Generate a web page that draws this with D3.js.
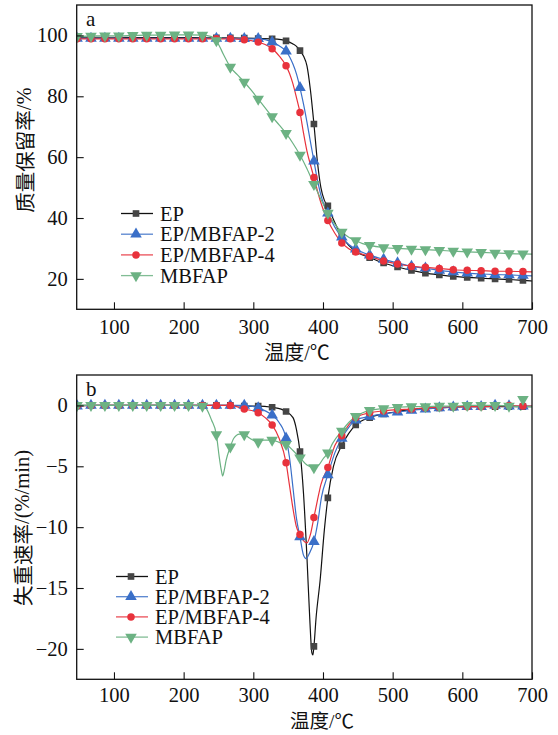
<!DOCTYPE html>
<html><head><meta charset="utf-8">
<script src="https://cdn.jsdelivr.net/npm/d3@7"></script>
<style>
html,body{margin:0;padding:0;background:#fff;}
text{font-family:"Liberation Serif","Times New Roman",serif;fill:#111;}
.cjk{font-family:"Noto Sans CJK SC","Noto Sans",sans-serif;}
.lat{font-family:"Liberation Serif","Times New Roman",serif;}
</style></head>
<body><svg id="c" width="558" height="735"></svg>
<script>
const seriesNames = ["EP", "EP/MBFAP-2", "EP/MBFAP-4", "MBFAP"];
const seriesColors = ["#111111", "#3a6fc8", "#e8323c", "#6cb283"];
const markerFills = ["#454545", "#3a6fc8", "#e8323c", "#6cb283"];
const markerTemps = [47,67,87,107,127,147,167,187,207,227,247,267,287,307,327,347,367,387,407,427,447,467,487,507,527,547,567,587,607,627,647,667,687];
const xTicks = [100,200,300,400,500,600,700];
const tgTicks = [20,40,60,80,100];
const dtgTicks = [-20,-15,-10,-5,0];

// TG curves [temperature, mass retention %]
const tgEP = [[47,99.4],[67,99.4],[87,99.4],[107,99.4],[127,99.3],[147,99.3],[167,99.3],[187,99.3],[207,99.3],[227,99.2],[247,99.2],[267,99.2],[287,99.1],[307,99.0],[327,98.9],[340,98.6],[347,98.2],[357,97.2],[362,96.4],[367,95.0],[372,93.2],[377,90.0],[382,82.0],[387,70.9],[392,58.5],[397,50.0],[402,45.8],[407,44.0],[415,39.5],[427,34.0],[437,31.0],[447,29.0],[467,27.0],[487,25.2],[507,23.9],[527,22.8],[547,21.9],[567,21.3],[587,20.8],[607,20.5],[627,20.2],[647,20.0],[667,19.8],[687,19.5],[700,19.3]];
const tgEP2 = [[47,99.0],[67,99.0],[87,99.0],[107,99.0],[127,99.0],[147,99.0],[167,99.0],[187,99.0],[207,99.0],[227,99.0],[247,99.0],[267,99.0],[287,98.9],[307,98.9],[317,98.6],[327,97.8],[337,96.6],[347,94.8],[352,93.0],[357,90.5],[362,87.3],[367,82.8],[372,77.5],[377,71.5],[382,65.0],[387,58.7],[392,52.5],[397,47.5],[402,44.0],[407,41.6],[417,37.0],[427,33.7],[437,31.3],[447,29.8],[467,27.8],[487,26.4],[507,25.2],[527,24.1],[547,23.5],[567,22.8],[587,22.3],[607,21.9],[627,21.6],[647,21.4],[667,21.3],[687,21.1],[700,21.0]];
const tgEP4 = [[47,98.9],[67,98.9],[87,98.9],[107,98.9],[127,98.9],[147,98.9],[167,98.9],[187,98.9],[207,98.9],[227,98.9],[247,98.9],[267,98.9],[287,98.6],[307,97.8],[317,97.0],[327,95.6],[337,93.3],[347,90.0],[352,87.5],[357,84.0],[362,79.5],[367,74.7],[372,68.0],[377,62.0],[382,57.5],[387,53.3],[392,49.0],[397,45.0],[402,41.8],[407,39.2],[417,35.0],[427,31.8],[437,29.9],[447,28.8],[467,27.4],[487,25.9],[507,24.9],[527,24.1],[547,23.8],[567,23.4],[587,23.0],[607,22.8],[627,22.7],[647,22.5],[667,22.5],[687,22.4],[700,22.3]];
const tgMB = [[47,99.7],[67,99.8],[87,99.9],[107,99.9],[127,100.0],[147,100.1],[167,100.1],[187,100.2],[207,100.2],[227,100.1],[240,99.6],[247,98.3],[252,96.2],[257,93.8],[262,91.6],[267,89.6],[277,87.1],[287,84.7],[297,82.0],[307,79.1],[317,76.2],[327,73.3],[337,70.6],[347,67.8],[357,64.5],[367,60.7],[377,56.2],[387,51.1],[397,46.2],[407,41.6],[417,38.0],[427,35.4],[437,33.7],[447,32.6],[457,31.6],[467,31.0],[487,30.3],[507,30.0],[527,29.8],[547,29.6],[567,29.4],[587,29.1],[607,28.9],[627,28.7],[647,28.5],[667,28.3],[687,28.2],[700,28.1]];

// DTG curves [temperature, weight loss rate %/min]
const dtgEP = [[47,0],[67,0],[87,0],[107,0],[127,0],[147,0],[167,0],[187,0],[207,0],[227,0],[247,0],[267,0],[287,-0.05],[307,-0.05],[327,-0.15],[340,-0.3],[347,-0.5],[357,-1.0],[362,-2.0],[367,-3.8],[372,-7.2],[377,-12.5],[381,-17.5],[384,-20.3],[385.5,-20.5],[387,-19.8],[390,-17.5],[396,-14.3],[402,-10.2],[407,-7.6],[415,-5.0],[427,-3.3],[437,-2.3],[447,-1.6],[467,-1.0],[487,-0.7],[507,-0.5],[527,-0.35],[547,-0.25],[567,-0.2],[587,-0.15],[607,-0.1],[627,-0.1],[647,-0.1],[667,-0.1],[687,-0.1],[700,-0.1]];
const dtgEP2 = [[47,-0.05],[67,0],[87,0],[107,0],[127,0],[147,0],[167,0],[187,0],[207,0],[227,0],[247,0],[267,0],[287,0],[307,-0.2],[327,-0.8],[337,-1.4],[347,-2.7],[352,-4.3],[357,-6.8],[362,-9.3],[367,-10.8],[372,-12.3],[376,-12.6],[380,-12.2],[387,-11.2],[392,-9.8],[398,-7.5],[407,-5.7],[417,-3.9],[427,-2.7],[437,-1.8],[447,-1.2],[467,-0.9],[487,-0.7],[507,-0.55],[527,-0.4],[547,-0.3],[567,-0.2],[587,-0.15],[607,-0.1],[627,-0.1],[647,0],[667,-0.05],[687,-0.05],[700,-0.05]];
const dtgEP4 = [[47,-0.05],[67,0],[87,0],[107,0],[127,0],[147,0],[167,0],[187,0],[207,0],[227,0],[247,0],[267,0],[287,-0.3],[307,-0.6],[317,-1.0],[327,-1.6],[337,-2.7],[347,-4.7],[352,-6.6],[357,-8.5],[362,-10.0],[367,-10.6],[372,-11.1],[377,-11.3],[382,-10.6],[387,-9.2],[392,-7.8],[397,-6.5],[407,-5.1],[417,-3.3],[427,-2.5],[437,-1.6],[447,-1.0],[467,-0.6],[487,-0.45],[507,-0.35],[527,-0.3],[547,-0.2],[567,-0.15],[587,-0.1],[607,-0.1],[627,-0.1],[647,-0.05],[667,0],[687,-0.05],[700,-0.05]];
const dtgMB = [[47,0],[67,0],[87,0],[107,0],[127,0],[147,0],[167,0],[187,0],[207,0],[227,-0.05],[233,-0.3],[240,-1.2],[247,-2.4],[251,-4.2],[254,-5.3],[256,-5.8],[258,-5.4],[261,-4.5],[267,-3.4],[272,-2.7],[280,-2.35],[287,-2.4],[295,-2.7],[307,-3.0],[315,-2.85],[327,-2.85],[340,-3.1],[347,-3.2],[357,-3.7],[367,-4.3],[377,-4.9],[387,-5.1],[394,-4.9],[400,-4.4],[407,-3.9],[414,-3.1],[427,-2.1],[437,-1.4],[447,-0.9],[457,-0.6],[467,-0.4],[487,-0.25],[507,-0.15],[527,-0.1],[547,-0.1],[567,-0.05],[587,-0.05],[607,0],[627,0],[647,0],[667,-0.05],[680,-0.1],[684,-0.4],[687,0.5],[692,-0.1],[700,-0.1]];

const tgSeries = [tgEP, tgEP2, tgEP4, tgMB];
const dtgSeries = [dtgEP, dtgEP2, dtgEP4, dtgMB];

const svg = d3.select("#c");
const symbolTypes = [d3.symbolSquare, d3.symbolTriangle, d3.symbolCircle, d3.symbolTriangle];
const symbolSizes = [44, 58, 44, 58];
const symbolRot = [0, 0, 0, 180];

function mixedText(sel, parts) {
  parts.forEach(p => sel.append("tspan").attr("class", p[1]).text(p[0]));
}

function panel(cfg) {
  const x = d3.scaleLinear().domain([46.5, 700]).range([76.7, 532]);
  const y = d3.scaleLinear().domain(cfg.ydom).range([cfg.bottom, cfg.top]);
  const g = svg.append("g");
  const clipId = "clip" + cfg.letter;
  svg.append("clipPath").attr("id", clipId).append("rect")
    .attr("x", 76.7).attr("y", cfg.top).attr("width", 532 - 76.7).attr("height", cfg.bottom - cfg.top);

  const line = d3.line().x(d => x(d[0])).y(d => y(d[1])).curve(d3.curveMonotoneX);
  const plot = g.append("g").attr("clip-path", `url(#${clipId})`);
  cfg.series.forEach((s, i) => {
    plot.append("path").datum(s).attr("d", line)
      .attr("fill", "none").attr("stroke", seriesColors[i]).attr("stroke-width", 1.2);
  });
  cfg.series.forEach((s, i) => {
    const pts = s.filter(d => markerTemps.includes(d[0]));
    plot.selectAll(null).data(pts).enter().append("path")
      .attr("d", d3.symbol().type(symbolTypes[i]).size(symbolSizes[i]))
      .attr("transform", d => `translate(${x(d[0])},${y(d[1])}) rotate(${symbolRot[i]})`)
      .attr("fill", markerFills[i]);
  });

  const xAxis = d3.axisBottom(x).tickValues(xTicks).tickSize(-7).tickPadding(cfg.xpad).tickFormat(d3.format("d"));
  const gx = g.append("g").attr("transform", `translate(0,${cfg.bottom})`).call(xAxis);
  const yAxis = d3.axisLeft(y).tickValues(cfg.yticks).tickSize(-7).tickPadding(9);
  const gy = g.append("g").attr("transform", `translate(76.7,0)`).call(yAxis);
  [gx, gy].forEach(a => {
    a.select(".domain").remove();
    a.selectAll("line").attr("stroke", "#111").attr("stroke-width", 1.1);
    a.selectAll("text").attr("font-size", 20.5).attr("font-family", "Liberation Serif").attr("fill", "#111");
  });
  g.append("rect").attr("x", 76.7).attr("y", cfg.top).attr("width", 532 - 76.7).attr("height", cfg.bottom - cfg.top)
    .attr("fill", "none").attr("stroke", "#111").attr("stroke-width", 1.3);

  g.append("text").attr("x", 86).attr("y", cfg.top + 21).attr("font-size", 21).text(cfg.letter);

  const xt = g.append("text").attr("x", cfg.xtitleX).attr("y", cfg.bottom + cfg.xtitleDy)
    .attr("text-anchor", "middle").attr("font-size", cfg.xtitleFs);
  mixedText(xt, [["温度", "cjk"], ["/", "lat"], ["℃", "cjk"]]);

  const yt = g.append("text")
    .attr("transform", `translate(${cfg.ytitleX},${cfg.ytitleY}) rotate(-90)`)
    .attr("text-anchor", "middle").attr("dominant-baseline", "central").attr("font-size", 20.5);
  mixedText(yt, cfg.ytitle);

  seriesNames.forEach((n, i) => {
    const ly = cfg.legY + i * cfg.legStep;
    g.append("line").attr("x1", cfg.legX).attr("x2", cfg.legX + 32).attr("y1", ly).attr("y2", ly)
      .attr("stroke", seriesColors[i]).attr("stroke-width", 1.3).attr("opacity", i === 0 ? 1 : 0.85);
    g.append("path").attr("d", d3.symbol().type(symbolTypes[i]).size(symbolSizes[i]))
      .attr("transform", `translate(${cfg.legX + 15},${ly}) rotate(${symbolRot[i]})`)
      .attr("fill", markerFills[i]);
    g.append("text").attr("x", cfg.legX + 39).attr("y", ly).attr("dy", "0.35em")
      .attr("font-size", 20.5).text(n);
  });
}

panel({letter: "a", ydom: [10, 110], top: 5, bottom: 309.3, yticks: tgTicks, series: tgSeries, xpad: 10,
  ytitle: [["质量保留率", "cjk"], ["/%", "lat"]], ytitleX: 24, ytitleY: 150, xtitleX: 297, xtitleDy: 51, xtitleFs: 20,
  legX: 121, legY: 213.5, legStep: 20.7});
panel({letter: "b", ydom: [-22.5, 2.5], top: 375, bottom: 679.3, yticks: dtgTicks, series: dtgSeries, xpad: 8,
  ytitle: [["失重速率", "cjk"], ["/(%/min)", "lat"]], ytitleX: 22, ytitleY: 528, xtitleX: 322, xtitleDy: 48.5, xtitleFs: 19.5,
  legX: 116, legY: 576.5, legStep: 20.2});
</script></body></html>
